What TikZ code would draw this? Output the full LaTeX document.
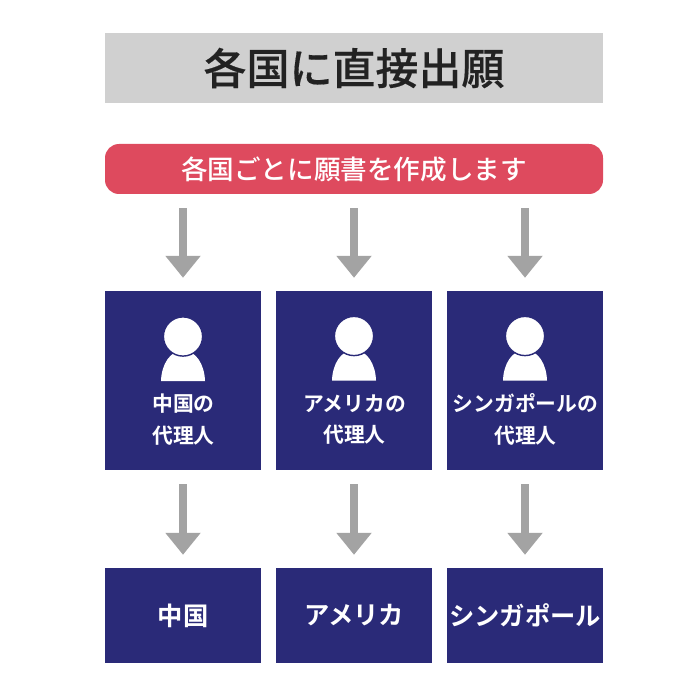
\documentclass[tikz,border=0pt]{standalone}
\usepackage{fontspec}
\usetikzlibrary{arrows.meta}
\newfontfamily\cjktitle[FakeBold=0.35]{Noto Sans CJK JP Medium}
\newfontfamily\cjkmed{Noto Sans CJK JP Medium}
\newfontfamily\cjkbold{Noto Sans CJK JP Bold}
\definecolor{titlegray}{HTML}{D0D0D0}
\definecolor{titleink}{HTML}{222222}
\definecolor{reqred}{HTML}{DE4A5E}
\definecolor{boxnavy}{HTML}{2A2A78}
\definecolor{flowgray}{HTML}{A3A3A3}
\tikzset{
  titlebox/.style={fill=titlegray,text=titleink,minimum width=498pt,minimum height=70pt,inner sep=0pt,font=\cjktitle\fontsize{43}{43}\selectfont},
  reqbox/.style={fill=reqred,text=white,rounded corners=14pt,minimum width=498pt,minimum height=50pt,inner sep=0pt,font=\cjkmed\fontsize{26.6}{26.6}\selectfont},
  agentbox/.style={fill=boxnavy,minimum width=156pt,minimum height=179pt,inner sep=0pt},
  agenttext/.style={text=white,align=center,inner sep=0pt,font=\cjkbold\fontsize{20.8}{31.5}\selectfont},
  officebox/.style={fill=boxnavy,text=white,minimum width=156pt,minimum height=95pt,inner sep=0pt,font=\cjkbold\fontsize{25.3}{25.3}\selectfont},
  flow/.style={draw=flowgray,line width=8.6pt,-{Triangle[length=22pt,width=34pt]},shorten <=14pt,shorten >=13pt},
  person/.pic={
    \fill[white] (-22,44.5) .. controls (-21.5,28) and (-13,14) .. (0,14) .. controls (13,14) and (21.5,28) .. (22,44.5) -- cycle;
    \filldraw[fill=white,draw=boxnavy,line width=1.4pt] (0,0) circle (19.6pt);
  }
}
\begin{document}
\begin{tikzpicture}[x=1pt,y=-1pt]
  \useasboundingbox (0,0) rectangle (700,700);
  \node[titlebox] (title) at (354,68) {各国に直接出願};
  \node[reqbox] (req) at (354,169) {各国ごとに願書を作成します};
  \node[agentbox] (agentcn) at (183,380.5) {}; % china
  \node[agentbox] (agentus) at (354,380.5) {}; % america
  \node[agentbox] (agentsg) at (525,380.5) {}; % singapore
  \pic at (183,336.5) {person};
  \pic at (354,336) {person};
  \pic at (525,336) {person};
  \node[agenttext] (textcn) at (183.5,419.5) {中国の\\代理人};
  \node[agenttext] (textus) at (354.5,419.5) {アメリカの\\代理人};
  \node[agenttext] (textsg) at (525.5,419.5) {シンガポールの\\代理人};
  \node[officebox] (officecn) at (183,615.5) {中国};
  \node[officebox] (officeus) at (354,615.5) {アメリカ};
  \node[officebox] (officesg) at (525,615.5) {シンガポール};
  \draw[flow] (agentcn.north |- req.south) -- (agentcn.north); % req -- china
  \draw[flow] (agentus.north |- req.south) -- (agentus.north); % req -- america
  \draw[flow] (agentsg.north |- req.south) -- (agentsg.north); % req -- singapore
  \draw[flow] (agentcn.south) -- (officecn.north); % china
  \draw[flow] (agentus.south) -- (officeus.north); % america
  \draw[flow] (agentsg.south) -- (officesg.north); % singapore
\end{tikzpicture}
\end{document}
